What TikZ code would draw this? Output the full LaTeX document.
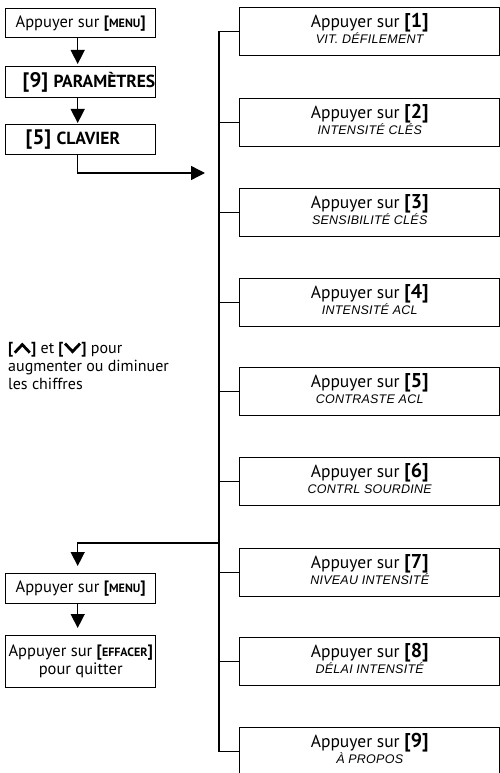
\documentclass[tikz,border=0pt]{standalone}
\usepackage{fontspec}
\setmainfont{PT Sans}
\newfontfamily\lcd[LetterSpace=2]{Liberation Sans}
\usetikzlibrary{arrows.meta}
\newcommand{\kb}[1]{\textbf{[{\fontsize{12}{12}\selectfont #1}]}}
\newcommand{\numk}[1]{\textbf{\fontsize{20}{20}\selectfont[#1]}}
\newcommand{\lcdtxt}[1]{{\lcd\itshape\fontsize{12.5}{12.5}\selectfont #1}}
\newcommand{\upchev}{\tikz[baseline=0pt]\draw[line width=2.8pt,line join=miter] (0pt,1pt)--(7.5pt,9pt)--(15pt,1pt);}
\newcommand{\dnchev}{\tikz[baseline=0pt]\draw[line width=2.8pt,line join=miter] (0pt,10pt)--(7.5pt,2pt)--(15pt,10pt);}
\begin{document}
\begin{tikzpicture}[x=1pt,y=-1pt,
  box/.style={draw, line width=1.4pt, inner sep=0pt, anchor=north west, align=center, font=\fontsize{16.5}{18}\selectfont},
  lbox/.style={box, minimum width=150pt, minimum height=30pt},
  rbox/.style={box, minimum width=260pt, minimum height=48pt, font=\fontsize{17.5}{17}\selectfont},
  link/.style={line width=1.4pt},
  arr/.style={link, -{Triangle[width=14pt,length=14pt]}}]
\useasboundingbox (0,0) rectangle (500,773);

% left column
\node[lbox, minimum height=29pt] (A) at (5,8) {Appuyer sur \kb{MENU}};
\node[lbox, minimum height=31pt] (B) at (5,66) {\makebox[146pt][l]{\hspace{15pt}\bfseries\fontsize{21}{21}\selectfont[9] \fontsize{17.5}{17.5}\selectfont PARAMÈTRES}};
\node[lbox] (C) at (5,124) {\makebox[146pt][l]{\hspace{18pt}\bfseries\fontsize{21}{21}\selectfont[5] \fontsize{17.5}{17.5}\selectfont CLAVIER}};
\node[lbox] (D) at (5,573) {Appuyer sur \kb{MENU}};
\node[lbox, minimum height=52pt] (E) at (5,635) {Appuyer sur \kb{EFFACER}\\pour quitter};

\node[anchor=north west, align=left, inner sep=0pt, font=\fontsize{16}{18}\selectfont] (note) at (8,342)
  {\textbf{[}\upchev\textbf{]} et \textbf{[}\dnchev\textbf{]} pour\\augmenter ou diminuer\\les chiffres};

% right column
\node[rbox] (r1) at (239,7)   {Appuyer sur \numk{1}\\[-1pt]\lcdtxt{VIT. DÉFILEMENT}\rule[-7pt]{0pt}{7pt}};
\node[rbox] (r2) at (239,98)  {Appuyer sur \numk{2}\\[-1pt]\lcdtxt{INTENSITÉ CLÉS}\rule[-7pt]{0pt}{7pt}};
\node[rbox] (r3) at (239,188) {Appuyer sur \numk{3}\\[-1pt]\lcdtxt{SENSIBILITÉ CLÉS}\rule[-7pt]{0pt}{7pt}};
\node[rbox] (r4) at (239,278) {Appuyer sur \numk{4}\\[-1pt]\lcdtxt{INTENSITÉ ACL}\rule[-7pt]{0pt}{7pt}};
\node[rbox] (r5) at (239,367) {Appuyer sur \numk{5}\\[-1pt]\lcdtxt{CONTRASTE ACL}\rule[-7pt]{0pt}{7pt}};
\node[rbox] (r6) at (239,457) {Appuyer sur \numk{6}\\[-1pt]\lcdtxt{CONTRL SOURDINE}\rule[-7pt]{0pt}{7pt}};
\node[rbox] (r7) at (239,548) {Appuyer sur \numk{7}\\[-1pt]\lcdtxt{NIVEAU INTENSITÉ}\rule[-7pt]{0pt}{7pt}};
\node[rbox] (r8) at (239,637) {Appuyer sur \numk{8}\\[-1pt]\lcdtxt{DÉLAI INTENSITÉ}\rule[-7pt]{0pt}{7pt}};
\node[rbox] (r9) at (239,727) {Appuyer sur \numk{9}\\[-1pt]\lcdtxt{À PROPOS}\rule[-7pt]{0pt}{7pt}};

% spine
\draw[link] (r1.west) -- ++(-20,0) |- (r9.west);
\foreach \i in {2,...,8} \draw[link] (r\i.west) -- ++(-20,0);

% arrows
\coordinate (in) at (205,173);
\coordinate (br) at (219,543);
\draw[arr, shorten >=2pt] ([xshift=-3pt]A.south) -- ([xshift=-3pt]B.north);
\draw[arr, shorten >=1pt] ([xshift=-3pt]B.south) -- ([xshift=-3pt]C.north);
\draw[arr] ([xshift=-3pt]C.south) |- (in);
\draw[arr, shorten >=7pt] (br) -| ([xshift=-3pt]D.north);
\draw[arr, shorten >=7pt] ([xshift=-3pt]D.south) -- ([xshift=-3pt]E.north);
\end{tikzpicture}
\end{document}
